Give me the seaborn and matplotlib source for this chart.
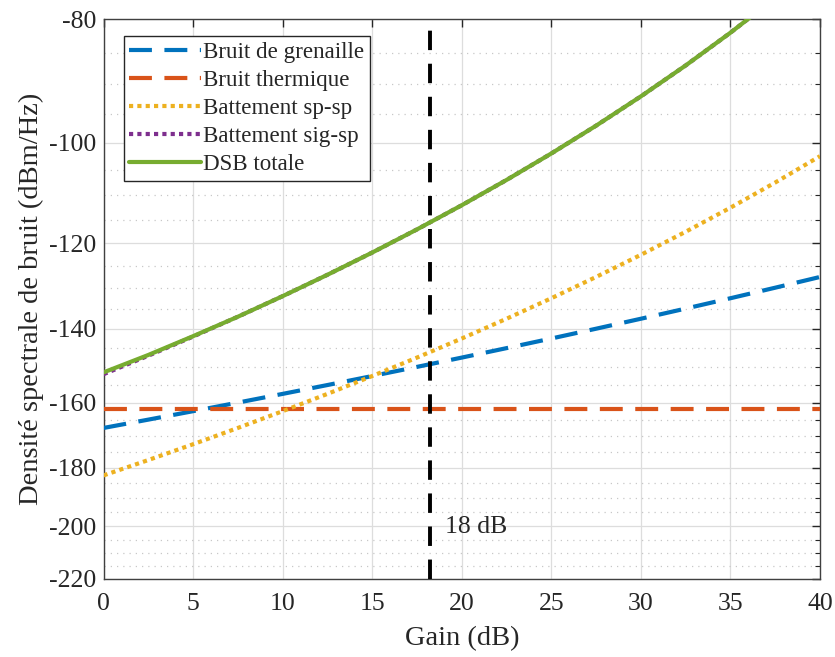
import numpy as np
import pandas as pd
import matplotlib
matplotlib.use("Agg")
import matplotlib.pyplot as plt
import seaborn as sns
from matplotlib.ticker import FixedLocator, FuncFormatter

# Values (dBm/Hz vs gain in dB)
gain = [0, 2.5, 5, 7.5, 10, 12.5, 15, 17.5, 20, 22.5, 25, 27.5, 30, 32.5, 35, 37.5, 40]
bruit_grenaille = [-167.5, -165, -162.5, -160, -157.5, -155, -152.5, -150, -147.5,
                   -145, -142.5, -140, -137.5, -135, -132.5, -130, -127.5]
bruit_thermique = [-162, -162, -162, -162, -162, -162, -162, -162, -162,
                   -162, -162, -162, -162, -162, -162, -162, -162]
batt_sp_sp = [-182.5, -177.5, -172.5, -167.5, -162.5, -157.5, -152.5, -147.5, -142.5,
              -137.5, -132.5, -127.5, -122.5, -117.5, -112.5, -107.5, -102.5]
batt_sig_sp = [-152, -147, -142, -137, -132, -127, -122, -117, -112,
               -107, -102, -97, -92, -87, -82, -77, -72]
dsb_totale = [-151.5, -146.8, -141.9, -137.0, -132.0, -127.0, -122.0, -117.0, -112.0,
              -107.0, -102.0, -97.0, -92.0, -87.0, -82.0, -77.0, -72.0]
gain_marker = 18.2

labels = ["Bruit de grenaille", "Bruit thermique", "Battement sp-sp",
          "Battement sig-sp", "DSB totale"]
series = [bruit_grenaille, bruit_thermique, batt_sp_sp, batt_sig_sp, dsb_totale]
colors = ["#0072BD", "#D95319", "#EDB120", "#7E2F8E", "#77AC30"]
styles = [(0, (5.5, 3)), (0, (5.5, 3)), (0, (1, 1)), (0, (1, 1)), "-"]

df = pd.DataFrame({"gain": gain * len(series),
                   "dsp": sum(series, []),
                   "courbe": [l for l in labels for _ in gain]})

sns.set_theme(style="white")
plt.rcParams["font.family"] = "serif"
plt.rcParams["font.serif"] = ["Liberation Serif", "DejaVu Serif"]
plt.rcParams["mathtext.fontset"] = "stix"
FONT = ["Liberation Serif", "DejaVu Serif"]

fig = plt.figure(figsize=(8.35, 6.57), dpi=100)
ax = fig.add_axes([0.124, 0.119, 0.858, 0.852])

for lab, col, ls in zip(labels, colors, styles):
    sns.lineplot(data=df[df["courbe"] == lab], x="gain", y="dsp", ax=ax,
                 color=col, linestyle=ls, linewidth=3, label=lab, zorder=3)

ax.axvline(gain_marker, color="black", linestyle=(0, (5, 3.5)), linewidth=2.8, zorder=4)
ax.text(gain_marker + 0.85, -200.5, "18 dB", fontsize=18.5, va="center", ha="left",
        family=FONT)

# y axis in MATLAB style: log scale on the magnitude of negative values
ax.set_yscale("function", functions=(lambda y: -np.log10(-y), lambda u: -10 ** (-u)))
ax.set_ylim(-220, -80)
ax.set_xlim(0, 40)
ax.yaxis.set_major_locator(FixedLocator(np.arange(-220, -79, 20)))
ax.yaxis.set_minor_locator(FixedLocator(np.arange(-220, -79, 5)))
ax.yaxis.set_major_formatter(FuncFormatter(lambda v, p: f"{v:.0f}"))
ax.yaxis.set_minor_formatter(FuncFormatter(lambda v, p: ""))
ax.xaxis.set_major_locator(FixedLocator(np.arange(0, 41, 5)))

ax.grid(which="major", color="#dddddd", linestyle="-", linewidth=0.9)
ax.grid(which="minor", axis="y", color="#c8c8c8", linestyle=(0, (1, 4)), linewidth=0.9)
ax.set_axisbelow(True)

for sp in ax.spines.values():
    sp.set_color("#404040")
    sp.set_linewidth(1.0)
ax.tick_params(which="both", direction="in", top=True, right=True,
               labelsize=18.5, colors="#262626")
ax.tick_params(axis="x", which="major", pad=10)
ax.tick_params(axis="y", which="major", pad=5)
ax.tick_params(which="major", length=6, width=1)
ax.tick_params(which="minor", length=3.5, width=0.8)
for t in ax.get_xticklabels() + ax.get_yticklabels():
    t.set_family(FONT)

ax.set_xlabel("Gain (dB)", fontsize=20.5, color="#262626", labelpad=8, family=FONT)
ax.set_ylabel("Densité spectrale de bruit (dBm/Hz)", fontsize=20.5, color="#262626",
              labelpad=4, family=FONT)

leg = ax.legend(loc="upper left", bbox_to_anchor=(0.028, 0.97),
                prop={"family": FONT, "size": 16.6},
                handlelength=3.1, handletextpad=0.1, labelspacing=0.3,
                borderpad=0.25, borderaxespad=0.0, fancybox=False, framealpha=1)
leg.get_frame().set_edgecolor("#262626")
leg.get_frame().set_linewidth(1.0)

fig.savefig("out.png", dpi=100)
